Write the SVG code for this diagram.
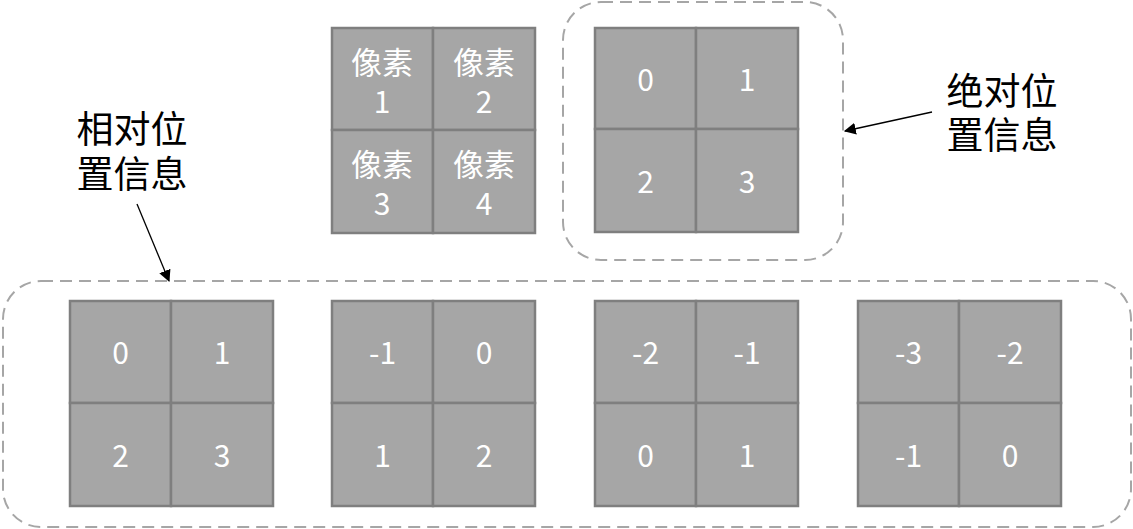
<svg xmlns="http://www.w3.org/2000/svg" width="1133" height="529" viewBox="0 0 1133 529">
<defs>
<style>
.cell{fill:#a6a6a6;stroke:#7f7f7f;stroke-width:2.5}
.num{fill:#ffffff;font-family:"Noto Sans CJK SC","Noto Sans",sans-serif;font-size:30px;text-anchor:middle;dominant-baseline:central}
.cjk{fill:#ffffff;font-family:"Noto Sans CJK SC",sans-serif;font-size:31px;text-anchor:middle;dominant-baseline:central}
.lbl{fill:#000000;font-family:"Noto Sans CJK SC",sans-serif;font-size:37px;text-anchor:middle;dominant-baseline:central}
.dash{fill:none;stroke:#a6a6a6;stroke-width:2;stroke-dasharray:12 7}
.arr{stroke:#000;stroke-width:1.3;fill:none;marker-end:url(#ah)}
</style>
<marker id="ah" viewBox="0 0 10 10" refX="9" refY="5" markerWidth="12" markerHeight="12" markerUnits="userSpaceOnUse" orient="auto">
<path d="M0,0 L10,5 L0,10 z" fill="#000"/>
</marker>
</defs>
<g id="abs-group"><rect class="dash" x="563" y="2" width="280" height="258" rx="38"/></g>
<g id="rel-group"><rect class="dash" x="3" y="281" width="1128" height="246" rx="38"/></g>
<g id="pixels">
<rect class="cell" x="332" y="28" width="101" height="102"/>
<rect class="cell" x="433" y="28" width="102" height="102"/>
<rect class="cell" x="332" y="130" width="101" height="103"/>
<rect class="cell" x="433" y="130" width="102" height="103"/>
<text class="cjk" x="382" y="60">像素</text><text class="num" x="382" y="100">1</text>
<text class="cjk" x="484" y="60">像素</text><text class="num" x="484" y="100">2</text>
<text class="cjk" x="382" y="162">像素</text><text class="num" x="382" y="202">3</text>
<text class="cjk" x="484" y="162">像素</text><text class="num" x="484" y="202">4</text>
</g>
<g id="abs-grid">
<rect class="cell" x="595" y="28" width="101" height="101"/>
<rect class="cell" x="696" y="28" width="102" height="101"/>
<rect class="cell" x="595" y="129" width="101" height="103"/>
<rect class="cell" x="696" y="129" width="102" height="103"/>
<text class="num" x="645.5" y="78">0</text><text class="num" x="747" y="78">1</text>
<text class="num" x="645.5" y="180">2</text><text class="num" x="747" y="180">3</text>
</g>
<g id="rel-grid-1">
<rect class="cell" x="70" y="301" width="101" height="102"/>
<rect class="cell" x="171" y="301" width="102" height="102"/>
<rect class="cell" x="70" y="403" width="101" height="103"/>
<rect class="cell" x="171" y="403" width="102" height="103"/>
<text class="num" x="120.5" y="351">0</text><text class="num" x="222" y="351">1</text>
<text class="num" x="120.5" y="454">2</text><text class="num" x="222" y="454">3</text>
</g>
<g id="rel-grid-2">
<rect class="cell" x="332" y="301" width="101" height="102"/>
<rect class="cell" x="433" y="301" width="102" height="102"/>
<rect class="cell" x="332" y="403" width="101" height="103"/>
<rect class="cell" x="433" y="403" width="102" height="103"/>
<text class="num" x="382.5" y="351">-1</text><text class="num" x="484" y="351">0</text>
<text class="num" x="382.5" y="454">1</text><text class="num" x="484" y="454">2</text>
</g>
<g id="rel-grid-3">
<rect class="cell" x="595" y="301" width="101" height="102"/>
<rect class="cell" x="696" y="301" width="102" height="102"/>
<rect class="cell" x="595" y="403" width="101" height="103"/>
<rect class="cell" x="696" y="403" width="102" height="103"/>
<text class="num" x="645.5" y="351">-2</text><text class="num" x="747" y="351">-1</text>
<text class="num" x="645.5" y="454">0</text><text class="num" x="747" y="454">1</text>
</g>
<g id="rel-grid-4">
<rect class="cell" x="858" y="301" width="101" height="102"/>
<rect class="cell" x="959" y="301" width="102" height="102"/>
<rect class="cell" x="858" y="403" width="101" height="103"/>
<rect class="cell" x="959" y="403" width="102" height="103"/>
<text class="num" x="908.5" y="351">-3</text><text class="num" x="1010" y="351">-2</text>
<text class="num" x="908.5" y="454">-1</text><text class="num" x="1010" y="454">0</text>
</g>
<g id="label-abs">
<text class="lbl" x="1002" y="89">绝对位</text>
<text class="lbl" x="1002" y="133">置信息</text>
</g>
<g id="label-rel">
<text class="lbl" x="132" y="127">相对位</text>
<text class="lbl" x="132" y="172">置信息</text>
</g>
<g id="connectors">
<line class="arr" x1="932" y1="112" x2="845" y2="131"/>
<line class="arr" x1="137" y1="204" x2="169" y2="281"/>
</g>
</svg>
